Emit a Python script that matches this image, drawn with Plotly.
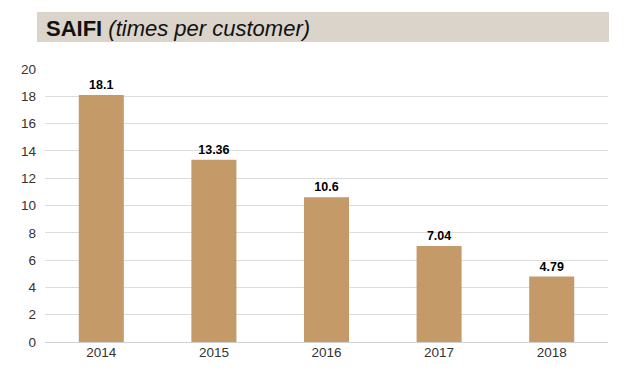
import plotly.graph_objects as go

years = ["2014", "2015", "2016", "2017", "2018"]
saifi = [18.1, 13.36, 10.6, 7.04, 4.79]
labels = ["18.1", "13.36", "10.6", "7.04", "4.79"]
yticks = [0, 2, 4, 6, 8, 10, 12, 14, 16, 18, 20]

OFF = 8  # default body margin of the html page
W, H = 625, 370
L, R, T, B = 37, 25, 61, 36
pw, ph = W - L - R, H - T - B

def px_x(x):
    return (x - OFF - L) / pw

def px_y(y):
    return (OFF + H - B - y) / ph

FONT = "Liberation Sans, Arial, Helvetica, sans-serif"

fig = go.Figure(go.Bar(
    x=years, y=saifi, text=labels, textposition="outside",
    texttemplate="<b>%{text}</b>",
    textfont=dict(family=FONT, size=12.5, color="#000"),
    marker=dict(color="#c49a69", line=dict(width=0)),
    cliponaxis=False,
))

fig.update_layout(
    width=W, height=H,
    margin=dict(l=L, r=R, t=T, b=B),
    paper_bgcolor="white", plot_bgcolor="white",
    bargap=0.6,
    showlegend=False,
    font=dict(family=FONT, size=13.5, color="#333"),
    xaxis=dict(showgrid=False, ticks="", showline=False, tickfont=dict(size=13.5, color="#333")),
    yaxis=dict(range=[0, 20], tickvals=yticks, showgrid=True, gridcolor="#dcdcdc", gridwidth=1,
               zeroline=True, zerolinecolor="#d0d0d0", zerolinewidth=1,
               ticks="", ticklabelstandoff=8, tickfont=dict(size=13.5, color="#333")),
    shapes=[dict(type="rect", xref="paper", yref="paper",
                 x0=px_x(37), x1=px_x(609), y0=px_y(42), y1=px_y(12),
                 fillcolor="#dad4ca", line=dict(width=0), layer="below")],
    annotations=[dict(xref="paper", yref="paper", x=px_x(44), y=px_y(28),
                      xanchor="left", yanchor="middle", showarrow=False,
                      text="<b>SAIFI</b> <i>(times per customer)</i>",
                      font=dict(family=FONT, size=22, color="#111"))],
)

fig.write_html("out.html")
